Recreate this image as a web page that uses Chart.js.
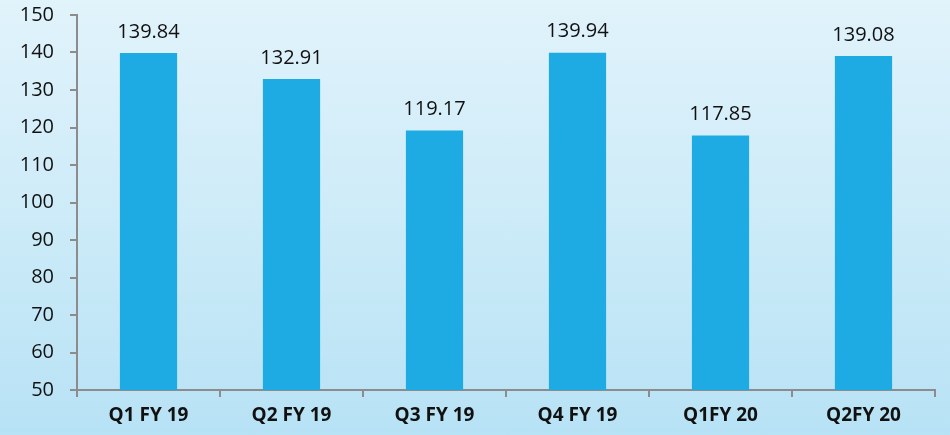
<!DOCTYPE html>
<html>
<head>
<meta charset="utf-8">
<script src="https://cdn.jsdelivr.net/npm/chart.js@4"></script>
<style>
  html, body { margin: 0; padding: 0; }
  body { width: 950px; height: 435px; overflow: hidden;
         background: linear-gradient(to bottom, #e1f3fb 0%, #cdebf8 50%, #b7e2f5 100%); }
  canvas { display: block; }
</style>
</head>
<body>
<canvas id="grafico" width="950" height="435"></canvas>
<script>
document.addEventListener("DOMContentLoaded", function () {

    const trimestres = ["Q1 FY 19", "Q2 FY 19", "Q3 FY 19", "Q4 FY 19", "Q1FY 20", "Q2FY 20"];
    const valores = [139.84, 132.91, 119.17, 139.94, 117.85, 139.08];
    const yMin = 50;
    const yMax = 150;
    const yStep = 10;

    const valueLabelsPlugin = {
        id: 'valueLabels',
        afterDatasetsDraw(chart) {
            const { ctx } = chart;
            const meta = chart.getDatasetMeta(0);
            ctx.save();
            ctx.textAlign = 'center';
            ctx.textBaseline = 'bottom';
            ctx.font = '20px "Open Sans"';
            ctx.fillStyle = '#111111';
            meta.data.forEach(function (bar, i) {
                ctx.fillText(valores[i].toFixed(2), bar.x, bar.y - 11);
            });
            ctx.restore();
        }
    };

    new Chart(document.getElementById("grafico"), {
        type: "bar",
        data: {
            labels: trimestres,
            datasets: [{
                data: valores,
                backgroundColor: "#1eabe3",
                borderWidth: 0,
                categoryPercentage: 1,
                barPercentage: 0.4
            }]
        },
        options: {
            responsive: false,
            animation: false,
            layout: { padding: { top: 15, right: 15, left: 0, bottom: 0 } },
            plugins: {
                legend: { display: false },
                tooltip: { enabled: false }
            },
            scales: {
                x: {
                    grid: {
                        drawOnChartArea: false,
                        drawTicks: true,
                        tickLength: 7,
                        tickColor: '#8c8c8c',
                        lineWidth: 2
                    },
                    border: { color: '#8c8c8c', width: 2 },
                    ticks: {
                        color: '#111111',
                        padding: 7,
                        font: { family: '"Open Sans"', size: 19, weight: 'bold' }
                    },
                    afterFit(scale) { scale.height = 45; }
                },
                y: {
                    min: yMin,
                    max: yMax,
                    grid: {
                        drawOnChartArea: false,
                        drawTicks: true,
                        tickLength: 7,
                        tickColor: '#8c8c8c',
                        lineWidth: 2
                    },
                    border: { color: '#8c8c8c', width: 2 },
                    ticks: {
                        stepSize: yStep,
                        color: '#111111',
                        padding: 16,
                        font: { family: '"Open Sans"', size: 20 }
                    },
                    afterFit(scale) {
                        scale.width = 77;
                        scale.paddingTop = 0;
                        scale.paddingBottom = 0;
                    }
                }
            }
        },
        plugins: [valueLabelsPlugin]
    });

});
</script>
</body>
</html>
